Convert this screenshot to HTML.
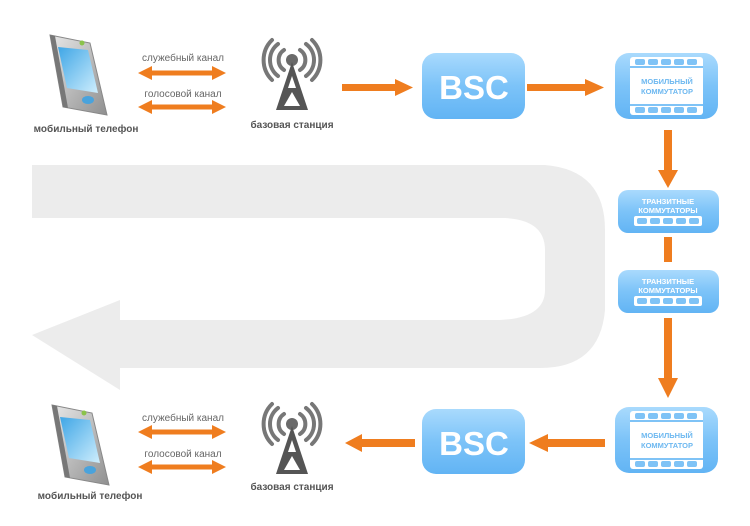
<!DOCTYPE html>
<html><head><meta charset="utf-8"><style>
html,body{margin:0;padding:0;background:#fff;width:750px;height:526px;overflow:hidden}
svg{display:block}
text{font-family:"Liberation Sans",sans-serif}
</style></head><body>
<svg width="750" height="526" viewBox="0 0 750 526" xmlns="http://www.w3.org/2000/svg">
<defs>
<linearGradient id="bl" x1="0" y1="0" x2="0" y2="1"><stop offset="0" stop-color="#a9dafd"/><stop offset="0.5" stop-color="#7cc3f8"/><stop offset="1" stop-color="#62b4f4"/></linearGradient>
<linearGradient id="ph" x1="0" y1="0" x2="1" y2="1"><stop offset="0" stop-color="#e8e8e8"/><stop offset="1" stop-color="#8f8f8f"/></linearGradient>
<linearGradient id="scr" x1="0" y1="0" x2="1" y2="1"><stop offset="0" stop-color="#3fa6e6"/><stop offset="1" stop-color="#cfeefd"/></linearGradient>
</defs>

<!-- big gray U arrow -->
<path fill="#ececec" d="M32 165 L545 165 Q605 170 605 230 L605 310 Q600 368 540 368 L120 368 L120 390 L32 335 L120 300 L120 320 L500 320 Q545 318 545 290 L545 250 Q545 220 505 218 L32 218 Z"/>

<!-- phones -->
<g id="p1">
<polygon points="50,35 90,43 107,115 63,107" fill="url(#ph)" stroke="#888" stroke-width="1"/>
<polygon points="50,35 55,36 68,108 63,107" fill="#777"/>
<polygon points="58,47 88,50 98,93 67,88" fill="url(#scr)"/>
<ellipse cx="88" cy="100" rx="6" ry="4" fill="#4aa3dc"/>
<circle cx="82" cy="43" r="2.5" fill="#8bc34a"/>
</g>
<g transform="translate(2,370)">
<polygon points="50,35 90,43 107,115 63,107" fill="url(#ph)" stroke="#888" stroke-width="1"/>
<polygon points="50,35 55,36 68,108 63,107" fill="#777"/>
<polygon points="58,47 88,50 98,93 67,88" fill="url(#scr)"/>
<ellipse cx="88" cy="100" rx="6" ry="4" fill="#4aa3dc"/>
<circle cx="82" cy="43" r="2.5" fill="#8bc34a"/>
</g>
<g font-size="10" font-weight="bold" fill="#555" text-anchor="middle">
<text x="86" y="132">мобильный телефон</text>
<text x="90" y="499">мобильный телефон</text>
</g>

<!-- channel labels & double arrows -->
<g font-size="10" fill="#666" text-anchor="middle">
<text x="183" y="61">служебный канал</text>
<text x="183" y="97">голосовой канал</text>
<text x="183" y="421">служебный канал</text>
<text x="183" y="457">голосовой канал</text>
</g>
<g fill="#ef7d1f">
<path d="M138 73 L152 66 L152 70.5 L212 70.5 L212 66 L226 73 L212 80 L212 75.5 L152 75.5 L152 80 Z"/>
<path d="M138 107 L152 100 L152 104.5 L212 104.5 L212 100 L226 107 L212 114 L212 109.5 L152 109.5 L152 114 Z"/>
<path d="M138 432 L152 425 L152 429.5 L212 429.5 L212 425 L226 432 L212 439 L212 434.5 L152 434.5 L152 439 Z"/>
<path d="M138 467 L152 460 L152 464.5 L212 464.5 L212 460 L226 467 L212 474 L212 469.5 L152 469.5 L152 474 Z"/>
</g>

<!-- towers -->
<g id="t1" fill="none" stroke="#777" stroke-width="4" stroke-linecap="round">
<path d="M284 50 A12 12 0 0 0 284 70"/><path d="M300 50 A12 12 0 0 1 300 70"/>
<path d="M278 44 A20 20 0 0 0 278 76"/><path d="M306 44 A20 20 0 0 1 306 76"/>
<path d="M272 40 A28 28 0 0 0 272 80"/><path d="M312 40 A28 28 0 0 1 312 80"/>
</g>
<circle cx="292" cy="60" r="6" fill="#6a6a6a"/>
<polygon points="292,62 276,110 308,110" fill="#555"/>
<polygon points="292,76 288,88 296,88" fill="#fff"/>
<polygon points="292,92 284,106 300,106" fill="#fff"/>
<g transform="translate(0,364)">
<g fill="none" stroke="#777" stroke-width="4" stroke-linecap="round">
<path d="M284 50 A12 12 0 0 0 284 70"/><path d="M300 50 A12 12 0 0 1 300 70"/>
<path d="M278 44 A20 20 0 0 0 278 76"/><path d="M306 44 A20 20 0 0 1 306 76"/>
<path d="M272 40 A28 28 0 0 0 272 80"/><path d="M312 40 A28 28 0 0 1 312 80"/>
</g>
<circle cx="292" cy="60" r="6" fill="#6a6a6a"/>
<polygon points="292,62 276,110 308,110" fill="#555"/>
<polygon points="292,76 288,88 296,88" fill="#fff"/>
<polygon points="292,92 284,106 300,106" fill="#fff"/>
</g>
<g font-size="10" font-weight="bold" fill="#555" text-anchor="middle">
<text x="292" y="128">базовая станция</text>
<text x="292" y="490">базовая станция</text>
</g>

<!-- orange flow arrows -->
<g fill="#ef7d1f">
<path d="M342 84 L395 84 L395 79 L413 87.5 L395 96 L395 91 L342 91 Z"/>
<path d="M527 84 L585 84 L585 79 L604 87.5 L585 96 L585 91 L527 91 Z"/>
<path d="M664 130 L672 130 L672 170 L678 170 L668 188 L658 170 L664 170 Z"/>
<rect x="664" y="237" width="8" height="25"/>
<path d="M664 318 L672 318 L672 378 L678 378 L668 398 L658 378 L664 378 Z"/>
<path d="M605 439 L548 439 L548 434 L529 443 L548 452 L548 447 L605 447 Z"/>
<path d="M415 439 L362 439 L362 434 L345 443 L362 452 L362 447 L415 447 Z"/>
</g>

<!-- BSC boxes -->
<rect x="422" y="53" width="103" height="66" rx="14" fill="url(#bl)"/>
<rect x="422" y="409" width="103" height="65" rx="14" fill="url(#bl)"/>
<g font-size="33" font-weight="bold" fill="#fff" text-anchor="middle">
<text x="474" y="99">BSC</text>
<text x="474" y="455">BSC</text>
</g>

<!-- mobile switch boxes -->
<g>
<rect x="615" y="53" width="103" height="66" rx="14" fill="url(#bl)"/>
<rect x="630" y="57" width="73" height="58" rx="3" fill="#fff"/>
<g fill="#7fc3f6"><rect x="635" y="59" width="10" height="6" rx="2"/><rect x="648" y="59" width="10" height="6" rx="2"/><rect x="661" y="59" width="10" height="6" rx="2"/><rect x="674" y="59" width="10" height="6" rx="2"/><rect x="687" y="59" width="10" height="6" rx="2"/>
<rect x="630" y="66" width="73" height="2"/><rect x="630" y="104" width="73" height="2"/>
<rect x="635" y="107" width="10" height="6" rx="2"/><rect x="648" y="107" width="10" height="6" rx="2"/><rect x="661" y="107" width="10" height="6" rx="2"/><rect x="674" y="107" width="10" height="6" rx="2"/><rect x="687" y="107" width="10" height="6" rx="2"/></g>
<g font-size="7.5" font-weight="bold" fill="#6db8f0" text-anchor="middle"><text x="667" y="84">МОБИЛЬНЫЙ</text><text x="667" y="94">КОММУТАТОР</text></g>
</g>
<g transform="translate(0,354)">
<rect x="615" y="53" width="103" height="66" rx="14" fill="url(#bl)"/>
<rect x="630" y="57" width="73" height="58" rx="3" fill="#fff"/>
<g fill="#7fc3f6"><rect x="635" y="59" width="10" height="6" rx="2"/><rect x="648" y="59" width="10" height="6" rx="2"/><rect x="661" y="59" width="10" height="6" rx="2"/><rect x="674" y="59" width="10" height="6" rx="2"/><rect x="687" y="59" width="10" height="6" rx="2"/>
<rect x="630" y="66" width="73" height="2"/><rect x="630" y="104" width="73" height="2"/>
<rect x="635" y="107" width="10" height="6" rx="2"/><rect x="648" y="107" width="10" height="6" rx="2"/><rect x="661" y="107" width="10" height="6" rx="2"/><rect x="674" y="107" width="10" height="6" rx="2"/><rect x="687" y="107" width="10" height="6" rx="2"/></g>
<g font-size="7.5" font-weight="bold" fill="#6db8f0" text-anchor="middle"><text x="667" y="84">МОБИЛЬНЫЙ</text><text x="667" y="94">КОММУТАТОР</text></g>
</g>

<!-- transit boxes -->
<g>
<rect x="618" y="190" width="101" height="43" rx="10" fill="url(#bl)"/>
<g font-size="7.5" font-weight="bold" fill="#fff" text-anchor="middle"><text x="668" y="204">ТРАНЗИТНЫЕ</text><text x="668" y="213">КОММУТАТОРЫ</text></g>
<rect x="634" y="216" width="68" height="10" rx="2" fill="#fff"/>
<g fill="#7fc3f6"><rect x="637" y="218" width="10" height="6" rx="2"/><rect x="650" y="218" width="10" height="6" rx="2"/><rect x="663" y="218" width="10" height="6" rx="2"/><rect x="676" y="218" width="10" height="6" rx="2"/><rect x="689" y="218" width="10" height="6" rx="2"/></g>
</g>
<g transform="translate(0,80)">
<rect x="618" y="190" width="101" height="43" rx="10" fill="url(#bl)"/>
<g font-size="7.5" font-weight="bold" fill="#fff" text-anchor="middle"><text x="668" y="204">ТРАНЗИТНЫЕ</text><text x="668" y="213">КОММУТАТОРЫ</text></g>
<rect x="634" y="216" width="68" height="10" rx="2" fill="#fff"/>
<g fill="#7fc3f6"><rect x="637" y="218" width="10" height="6" rx="2"/><rect x="650" y="218" width="10" height="6" rx="2"/><rect x="663" y="218" width="10" height="6" rx="2"/><rect x="676" y="218" width="10" height="6" rx="2"/><rect x="689" y="218" width="10" height="6" rx="2"/></g>
</g>
</svg>
</body></html>
